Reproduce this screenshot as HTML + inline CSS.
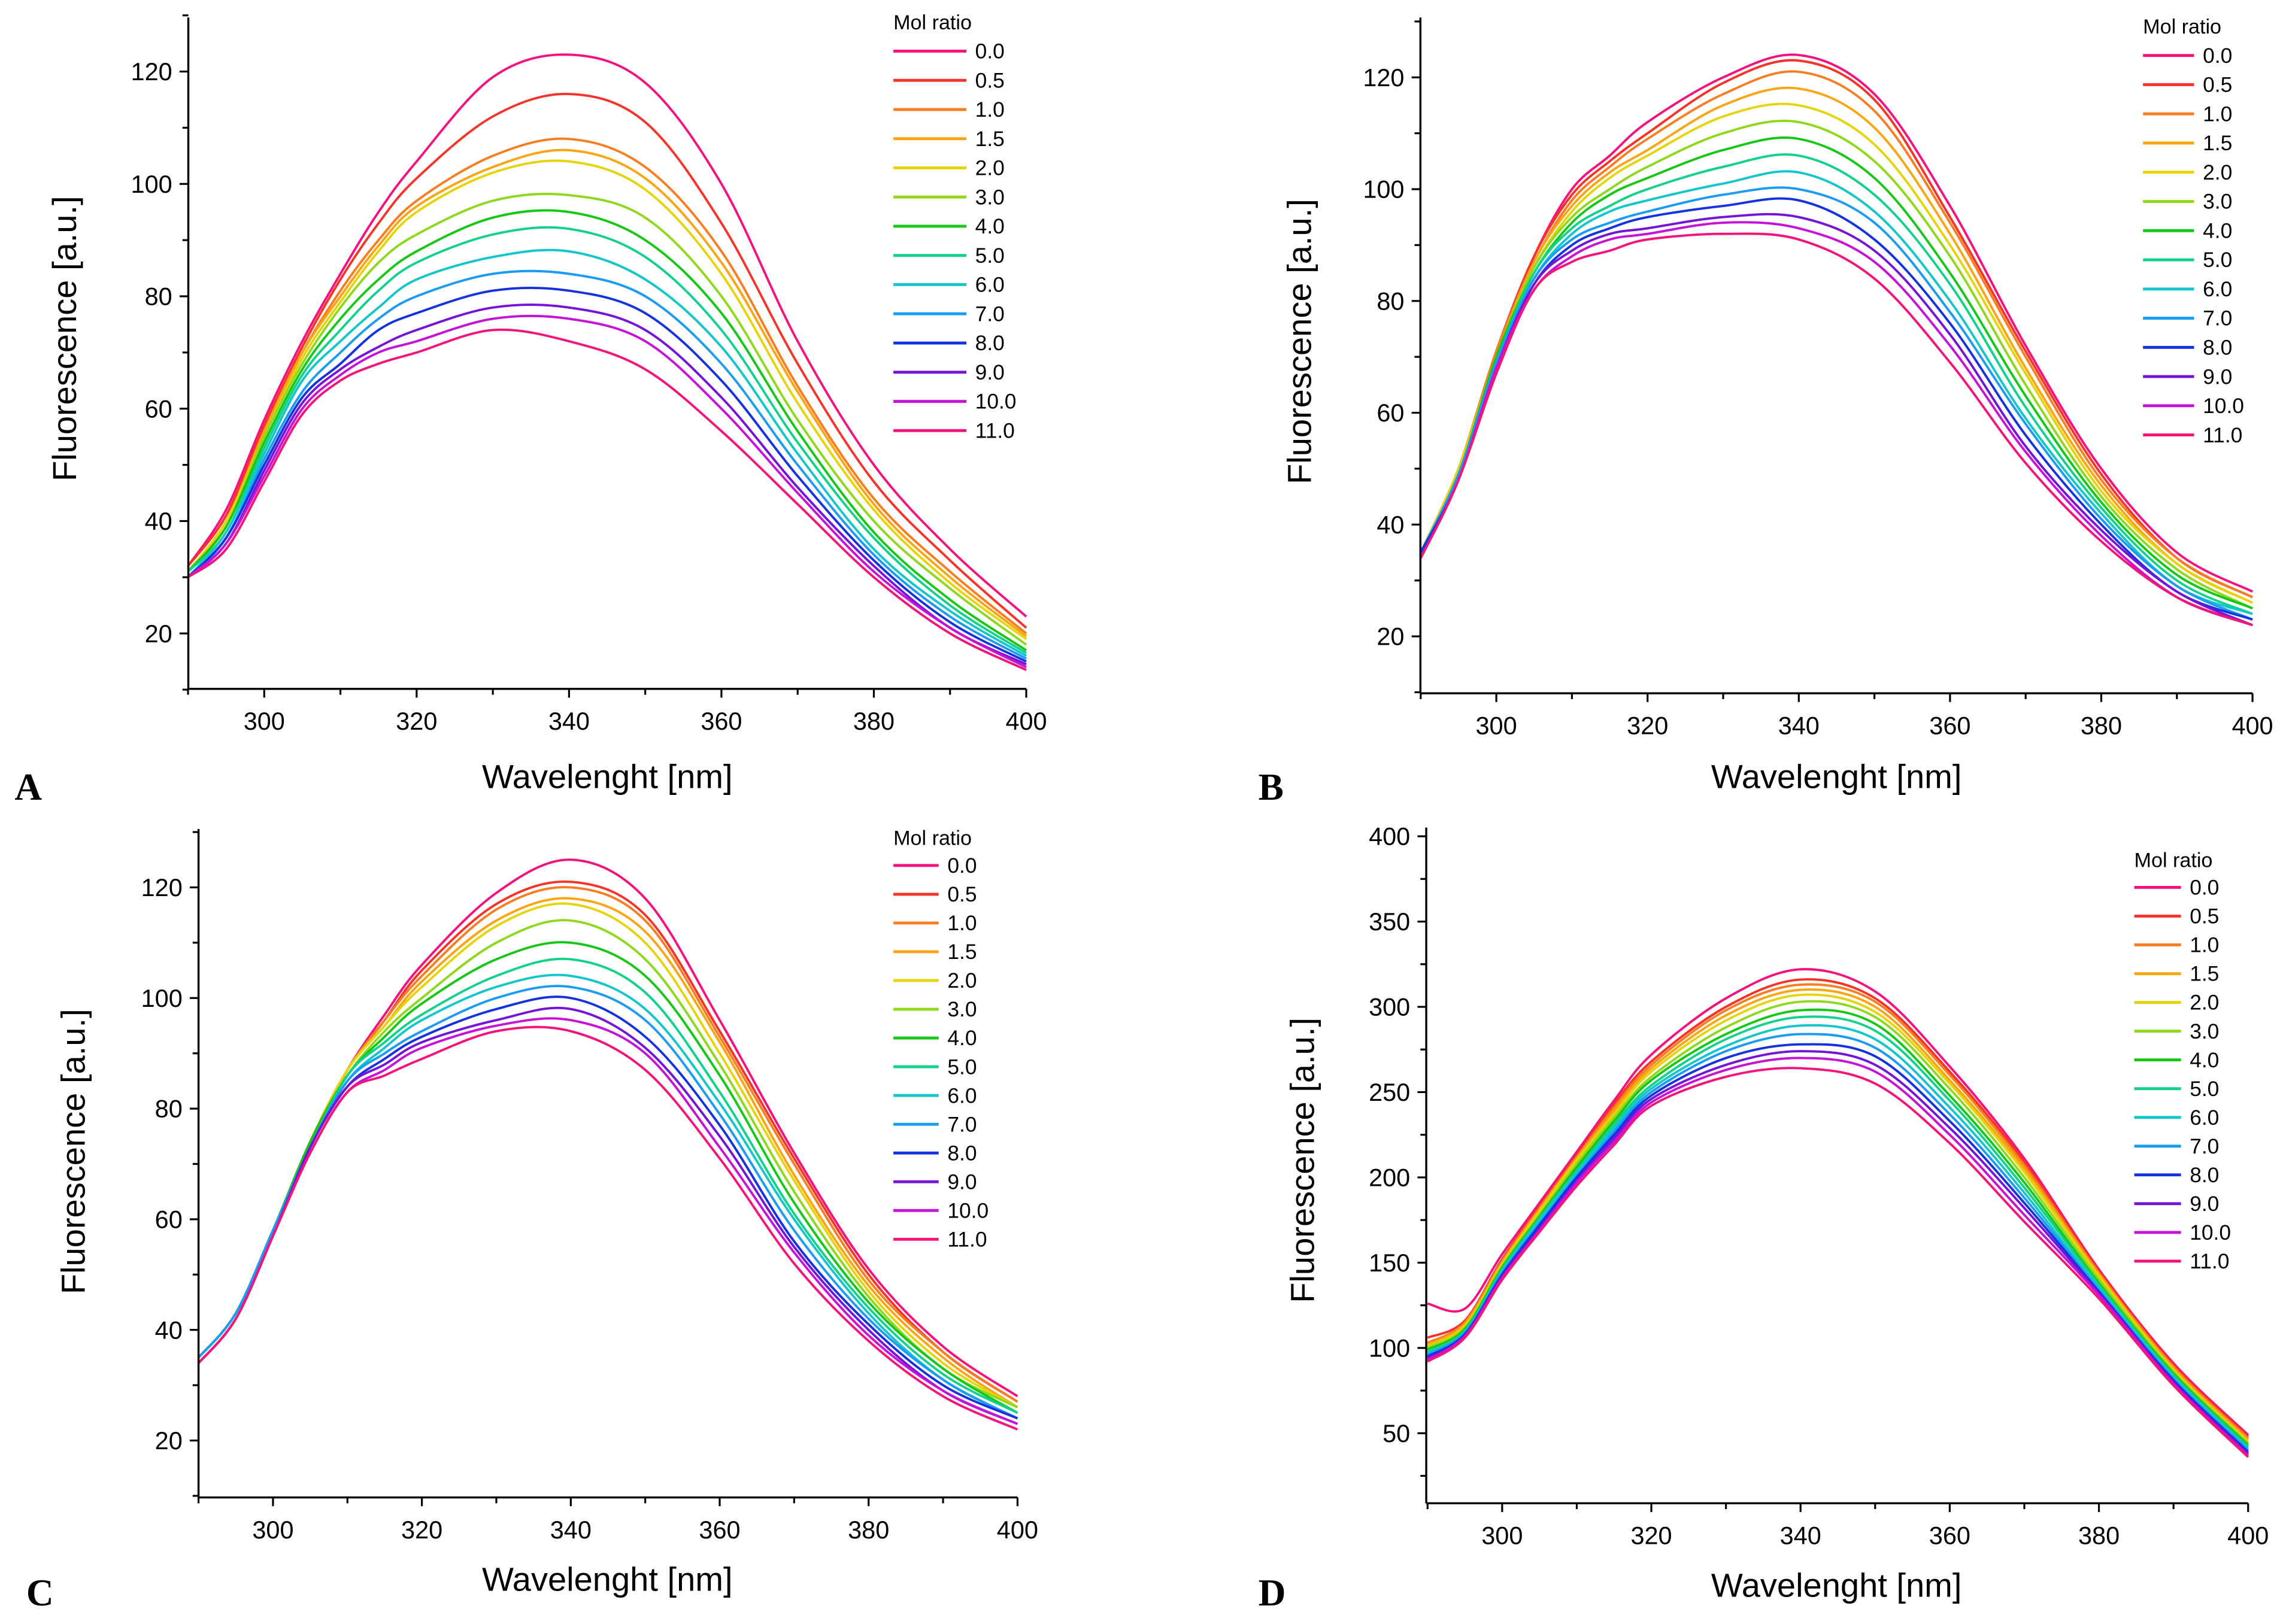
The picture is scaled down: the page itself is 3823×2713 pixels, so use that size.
<!DOCTYPE html>
<html><head><meta charset="utf-8">
<style>
html,body{margin:0;padding:0;background:#fff;}
svg{display:block;}
text{font-family:"Liberation Sans",sans-serif;fill:#000;}
</style></head>
<body>
<svg id="fig" width="3823" height="2713" viewBox="0 0 1568 1112.7" xmlns="http://www.w3.org/2000/svg"></svg>
<script>
const wavelengths=[290,295,300,305,310,315,320,330,340,350,360,370,380,390,400];
const ratioLabels=["0.0","0.5","1.0","1.5","2.0","3.0","4.0","5.0","6.0","7.0","8.0","9.0","10.0","11.0"];
const seriesColors=["#f5127f","#f7332a","#fb7d22","#fba512","#e6d40a","#8fd81c","#16c816","#12d18a","#13c6cc","#1a9cf5","#1432e0","#7414d8","#c612d8","#f7147a"];
const dataA=[
[32,42,58,72,84,95,104,119,123,118,100,72,50,35,23],
[32,41,57,71,83,93,101,112,116,111,93,68,47,33,21],
[31,40,56,70,81,90,97,105,108,103,88,64,44,31,20],
[31,40,56,70,80,89,96,103,106,101,86,63,43,30,19.5],
[31,40,55,69,79,88,95,102,104,99,84,61,42,29,19],
[31,39,55,68,78,86,91,97,98,94,80,58,40,28,18],
[31,39,54,67,76,83,88,94,95,90,77,56,38,26,17],
[31,38,53,66,74,81,86,91,92,87,74,54,37,25,16.5],
[30,38,52,65,72,78,83,87,88,83,71,52,35,24,16],
[30,37,51,63,70,76,80,84,84,80,68,50,34,23,15.5],
[30,37,50,62,68,74,77,81,81,77,65,48,33,22,15],
[30,36,49,61,67,71,74,78,78,74,62,46,32,21,14.5],
[30,36,48,60,66,70,72,76,76,72,60,45,31,21,14],
[30,35,47,59,65,68,70,74,72,67,56,43,30,20,13.5]];
const dataB=[
[35,50,71,88,100,106,112,120,124,117,97,72,50,35,28],
[35,50,71,88,99,105,110,119,123,116,95,71,49,34,27],
[35,50,71,87,98,104,109,117,121,114,94,70,48,34,27],
[35,50,70,87,97,103,107,115,118,111,92,68,47,33,26],
[35,50,70,86,96,102,106,113,115,108,90,67,46,33,26],
[35,49,70,86,95,100,104,110,112,105,88,65,45,32,25],
[35,49,70,85,94,99,102,107,109,102,85,63,44,31,25],
[35,49,69,85,93,97,100,104,106,99,83,61,43,30,24],
[35,49,69,84,92,96,98,101,103,96,80,59,42,29,24],
[35,49,69,84,91,94,96,99,100,94,78,58,41,29,23],
[35,48,68,83,90,93,95,97,98,91,76,56,40,28,23],
[34,48,68,83,89,92,93,95,95,89,74,54,39,28,22],
[34,48,68,82,88,91,92,94,93,87,72,53,38,27,22],
[34,48,67,82,87,89,91,92,91,84,69,51,37,27,22]];
const dataC=[
[35,43,58,74,87,97,106,119,125,118,96,72,51,37,28],
[35,43,58,74,87,96,105,117,121,115,94,71,50,36,27],
[35,43,58,74,87,96,104,116,120,114,93,70,49,36,27],
[35,43,58,74,87,95,103,114,118,112,92,68,48,35,26],
[35,43,58,74,87,95,102,113,117,110,90,67,47,34,26],
[35,43,58,74,86,94,100,110,114,107,88,65,46,33,26],
[35,43,58,74,86,93,99,107,110,104,86,63,45,33,25],
[35,43,58,73,86,92,97,104,107,101,83,61,44,32,25],
[35,43,58,73,85,91,96,102,104,98,81,60,43,31,24],
[35,43,58,73,85,90,94,100,102,96,79,58,42,31,24],
[34,42,57,73,84,89,93,98,100,93,77,56,41,30,24],
[34,42,57,73,84,88,92,96,98,91,75,55,40,29,23],
[34,42,57,72,83,87,91,95,96,90,73,54,39,29,23],
[34,42,57,72,83,86,89,94,94,87,71,52,38,28,22]];
const dataD=[
[126,123,155,185,215,245,272,305,322,309,265,211,146,91,49],
[106,116,152,183,213,243,268,300,316,305,262,209,145,90,48],
[103,115,151,182,212,241,266,298,313,303,260,207,144,89,47],
[102,114,150,181,211,239,264,295,310,300,257,205,143,88,46],
[101,113,149,180,210,237,262,292,307,297,255,203,142,87,45],
[100,112,148,178,208,235,259,288,303,294,252,200,140,86,44],
[99,111,147,177,206,233,257,284,298,290,248,197,138,85,43],
[98,110,146,176,204,231,254,281,294,286,245,194,137,84,42],
[97,109,145,175,203,229,252,277,289,281,241,191,135,83,41],
[96,109,144,173,201,227,250,274,284,276,237,188,134,82,40],
[95,108,143,172,200,225,248,270,278,271,233,185,133,81,39],
[94,107,142,170,198,223,246,266,274,266,229,182,132,80,38],
[93,107,141,169,197,221,244,263,270,262,225,178,131,79,37],
[92,106,140,168,195,219,242,259,264,255,220,174,129,78,36]];
const xTicks=[300,320,340,360,380,400];
const yTicksABC=[20,40,60,80,100,120];
const yTicksD=[50,100,150,200,250,300,350,400];

const NS="http://www.w3.org/2000/svg";
const svg=document.getElementById('fig');
function mk(tag,attrs,parent){const e=document.createElementNS(NS,tag);for(const k in attrs)e.setAttribute(k,attrs[k]);(parent||svg).appendChild(e);return e;}

const panels=[
 {id:"a",letter:"A",data:dataA,yt:yTicksABC,ymin:10,ymax:130,minorY:10,
  x0:129,x1:703,yTop:12,yBot:472,yRef:[20,434,120,49],xRef:[300,181,400,703],
  lx:612,ly:15,le:35,ls:20,lt:668,letterPos:[10,548],xtitle:[416,540],ytitle:[52,232]},
 {id:"b",letter:"B",data:dataB,yt:yTicksABC,ymin:10,ymax:130,minorY:10,
  x0:973,x1:1543,yTop:12,yBot:475,yRef:[20,436,120,53],xRef:[300,1025,400,1543],
  lx:1468,ly:18,le:38,ls:20,lt:1509,letterPos:[862,548],xtitle:[1258,540],ytitle:[898,234]},
 {id:"c",letter:"C",data:dataC,yt:yTicksABC,ymin:10,ymax:130,minorY:10,
  x0:136,x1:697,yTop:568,yBot:1026,yRef:[20,987,120,608],xRef:[300,187,400,697],
  lx:612,ly:574,le:593,ls:19.7,lt:649,letterPos:[18,1100],xtitle:[416,1090],ytitle:[58,789]},
 {id:"d",letter:"D",data:dataD,yt:yTicksD,ymin:10,ymax:405,minorY:25,
  x0:977,x1:1540,yTop:567,yBot:1030,yRef:[50,982,400,573],xRef:[300,1029,400,1540],
  lx:1462,ly:589,le:608,ls:19.7,lt:1500,letterPos:[862,1100],xtitle:[1258,1094],ytitle:[900,795]}
];

function catmull(pts){
 let d="M"+pts[0][0].toFixed(2)+","+pts[0][1].toFixed(2);
 for(let i=0;i<pts.length-1;i++){
  const p0=pts[i-1]||pts[i],p1=pts[i],p2=pts[i+1],p3=pts[i+2]||p2;
  const c1=[p1[0]+(p2[0]-p0[0])/6,p1[1]+(p2[1]-p0[1])/6];
  const c2=[p2[0]-(p3[0]-p1[0])/6,p2[1]-(p3[1]-p1[1])/6];
  d+="C"+c1[0].toFixed(2)+","+c1[1].toFixed(2)+" "+c2[0].toFixed(2)+","+c2[1].toFixed(2)+" "+p2[0].toFixed(2)+","+p2[1].toFixed(2);
 }
 return d;
}

panels.forEach(p=>{
 const g=mk('g',{});
 
 
 const xs=(p.xRef[3]-p.xRef[1])/(p.xRef[2]-p.xRef[0]);
 const X=v=>p.xRef[1]+(v-p.xRef[0])*xs;
 const ys=(p.yRef[3]-p.yRef[1])/(p.yRef[2]-p.yRef[0]);
 const Y=v=>p.yRef[1]+(v-p.yRef[0])*ys;
 const sg=mk('g',{},g);
 
 
 p.data.forEach((row,i)=>{
  const pts=row.map((v,j)=>[X(wavelengths[j]),Y(v)]);
  const path=mk('path',{d:catmull(pts),fill:'none',stroke:seriesColors[i],'stroke-width':1.6},sg);
  
  
 });
 const ya=mk('line',{x1:p.x0,y1:p.yTop,x2:p.x0,y2:p.yBot,stroke:'#000','stroke-width':1.4},g);
 
 
 const xa=mk('line',{x1:p.x0,y1:p.yBot,x2:p.x1,y2:p.yBot,stroke:'#000','stroke-width':1.4},g);
 
 
 for(let v=290;v<=400;v+=10){
  const major=xTicks.indexOf(v)>=0;
  const t=mk('line',{x1:X(v),y1:p.yBot,x2:X(v),y2:p.yBot+(major?6:4),stroke:'#000','stroke-width':1.3},g);
  
  
 }
 xTicks.forEach(v=>{
  const t=mk('text',{x:X(v),y:p.yBot+28,'font-size':17,'text-anchor':'middle'},g);
  t.textContent=v;
  
  
 });
 for(let v=Math.ceil(p.ymin/p.minorY)*p.minorY;v<=p.ymax;v+=p.minorY){
  const major=p.yt.indexOf(v)>=0;
  const t=mk('line',{x1:p.x0-(major?6:4),y1:Y(v),x2:p.x0,y2:Y(v),stroke:'#000','stroke-width':1.3},g);
  
  
 }
 p.yt.forEach(v=>{
  const t=mk('text',{x:p.x0-11,y:Y(v)+6,'font-size':17,'text-anchor':'end'},g);
  t.textContent=v;
  
  
 });
 const xt=mk('text',{x:p.xtitle[0],y:p.xtitle[1],'font-size':23,'text-anchor':'middle'},g);
 xt.textContent="Wavelenght [nm]";
 
 
 const yt=mk('text',{x:p.ytitle[0],y:p.ytitle[1],'font-size':23,'text-anchor':'middle',transform:'rotate(-90 '+p.ytitle[0]+' '+p.ytitle[1]+')'},g);
 yt.textContent="Fluorescence [a.u.]";
 
 
 const lg=mk('g',{},g);
 
 
 const lt=mk('text',{x:p.lx,y:p.ly+5,'font-size':14},lg);
 lt.textContent="Mol ratio";
 
 
 ratioLabels.forEach((r,i)=>{
  const yy=p.le+i*p.ls;
  const e=mk('g',{},lg);
  
  
  mk('line',{x1:p.lx,y1:yy,x2:p.lx+(p.lt-p.lx-6),y2:yy,stroke:seriesColors[i],'stroke-width':2},e);
  const tx=mk('text',{x:p.lt,y:yy+5,'font-size':14.5},e);
  tx.textContent=r;
 });
 const L=mk('text',{x:p.letterPos[0],y:p.letterPos[1],'font-size':26,'font-weight':'bold',style:'font-family:"Liberation Serif",serif'},g);
 L.textContent=p.letter;
 
 
});
</script>
</body></html>
